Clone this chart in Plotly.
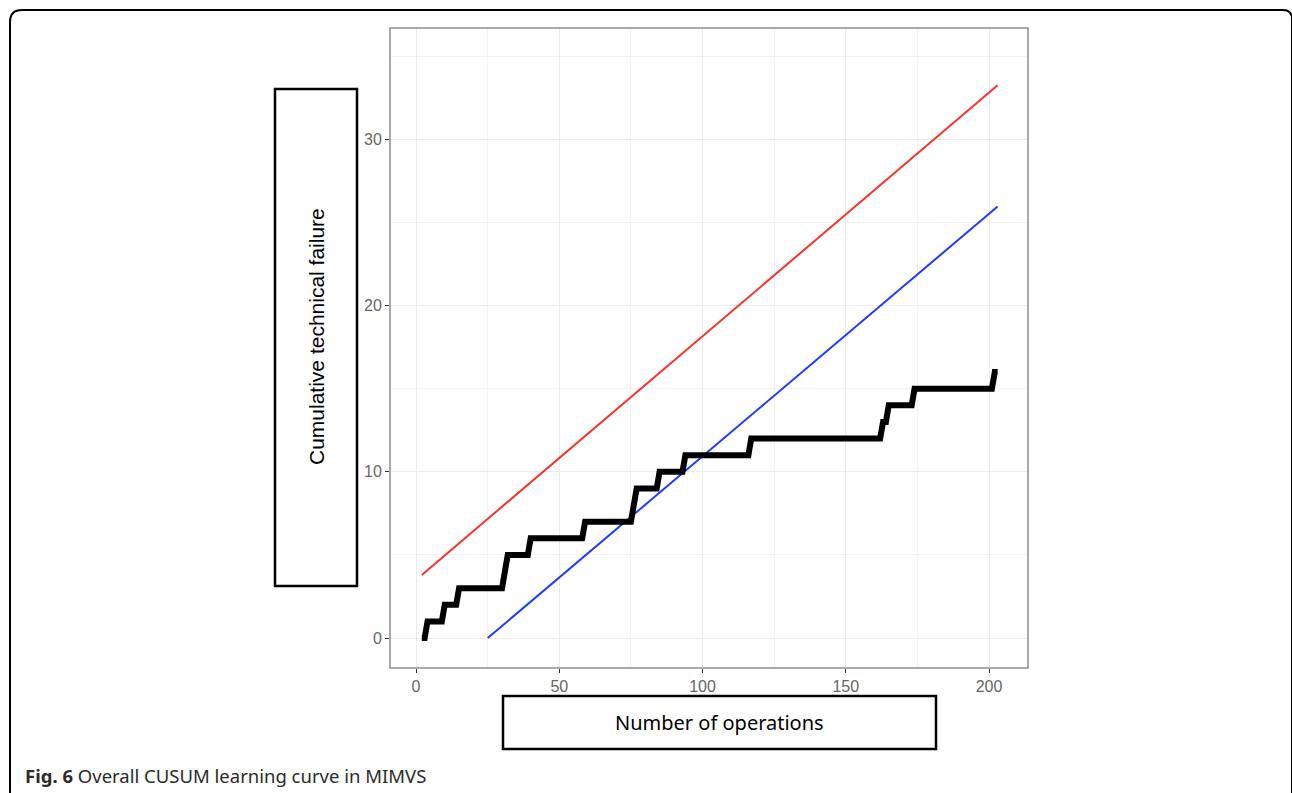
import plotly.graph_objects as go

# CUSUM step curve
cusum_x = [2, 3, 4, 9, 10, 14, 15, 30, 31, 32, 39, 40, 58, 59, 75, 76, 77, 84, 85,
           93, 94, 116, 117, 162, 163, 164, 165, 173, 174, 201, 202, 203]
cusum_y = [0, 0, 1, 1, 2, 2, 3, 3, 4, 5, 5, 6, 6, 7, 7, 8, 9, 9, 10,
           10, 11, 11, 12, 12, 13, 13, 14, 14, 15, 15, 16, 16]

# decision limits
upper_x = [2, 203]
upper_y = [3.8, 33.25]
lower_x = [25, 203]
lower_y = [0, 25.96]

x_ticks = [0, 50, 100, 150, 200]
y_ticks = [0, 10, 20, 30]

W, H = 1292, 793
L, R, T, B = 390, 1028, 28, 668


def px(x):
    return (x - L) / (R - L)


def py(y):
    return (B - y) / (B - T)


fig = go.Figure()
fig.add_trace(go.Scatter(x=upper_x, y=upper_y, mode="lines",
                         line=dict(color="#F5352A", width=2), showlegend=False))
fig.add_trace(go.Scatter(x=lower_x, y=lower_y, mode="lines",
                         line=dict(color="#1E3CFF", width=2), showlegend=False))
fig.add_trace(go.Scatter(x=cusum_x, y=cusum_y, mode="lines",
                         line=dict(color="black", width=6), showlegend=False))

axis_common = dict(
    showgrid=True, gridcolor="#EBEBEB", gridwidth=1.2,
    zeroline=False, showline=False,
    ticks="outside", ticklen=4, tickcolor="#333333", tickwidth=1,
    tickfont=dict(family="Liberation Sans", size=16, color="#666666"),
    minor=dict(showgrid=True, gridcolor="#F3F3F3", gridwidth=0.8),
)

fig.update_xaxes(range=[-9.1, 213.6], tickvals=x_ticks, **axis_common)
fig.update_yaxes(range=[-1.8, 36.7], tickvals=y_ticks, **axis_common)
fig.update_xaxes(minor=dict(tickvals=[25, 75, 125, 175], ticks=""))
fig.update_yaxes(minor=dict(tickvals=[5, 15, 25, 35], ticks=""))

shapes = []
# panel border
shapes.append(dict(type="rect", xref="paper", yref="paper", x0=0, x1=1, y0=0, y1=1,
                   line=dict(color="#8F8F8F", width=1.5)))
# y label box
shapes.append(dict(type="rect", xref="paper", yref="paper",
                   x0=px(275), x1=px(357), y0=py(586), y1=py(89),
                   line=dict(color="black", width=2.5)))
# x label box
shapes.append(dict(type="rect", xref="paper", yref="paper",
                   x0=px(503), x1=px(936), y0=py(749), y1=py(696),
                   line=dict(color="black", width=2.5)))
# outer rounded frame
path = (f"M {px(10)},{py(820)} L {px(10)},{py(22)} Q {px(10)},{py(10)} {px(22)},{py(10)} "
        f"L {px(1283)},{py(10)} Q {px(1292)},{py(10)} {px(1292)},{py(19)} L {px(1292)},{py(820)}")
shapes.append(dict(type="path", xref="paper", yref="paper", path=path,
                   line=dict(color="black", width=2)))

annotations = [
    dict(x=px(316), y=py(337), xref="paper", yref="paper", text="Cumulative technical failure",
         textangle=-90, showarrow=False, xanchor="center", yanchor="middle",
         font=dict(family="Liberation Sans", size=21, color="black")),
    dict(x=px(719.5), y=py(722.5), xref="paper", yref="paper", text="Number of operations",
         showarrow=False, xanchor="center", yanchor="middle",
         font=dict(family="Noto Sans", size=20, color="black")),
    dict(x=px(24), y=py(775), xref="paper", yref="paper",
         text="<b>Fig. 6</b> Overall CUSUM learning curve in MIMVS",
         showarrow=False, xanchor="left", yanchor="middle", borderpad=0,
         font=dict(family="Noto Sans", size=18.5, color="#2b2b2b")),
]

fig.update_layout(
    width=W, height=H,
    margin=dict(l=L, r=W - R, t=T, b=H - B),
    paper_bgcolor="white", plot_bgcolor="white",
    shapes=shapes, annotations=annotations,
    showlegend=False,
)

fig.write_html("out.html", config={"displayModeBar": False},
               post_script="document.body.style.margin='0';document.body.style.overflow='hidden';")
